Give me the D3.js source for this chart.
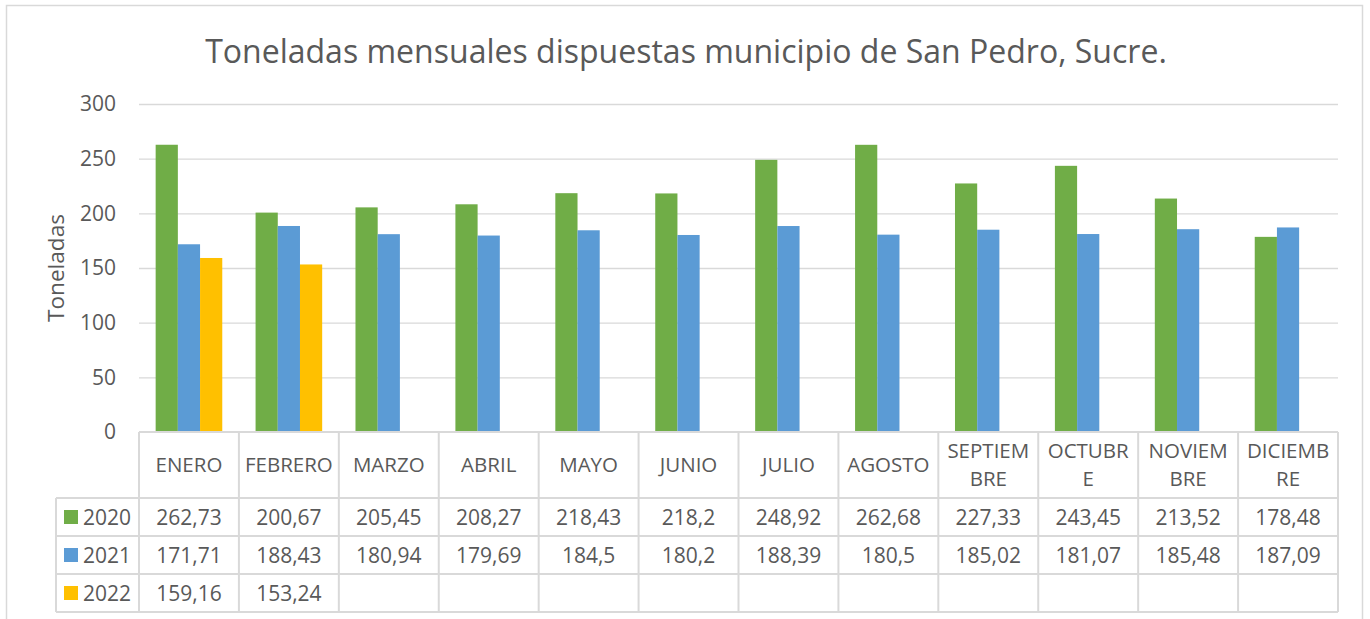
<!DOCTYPE html>
<html>
<head>
<meta charset="utf-8">
<script src="https://cdn.jsdelivr.net/npm/d3@7"></script>
<style>
	body { margin: 0; background: #fff; }
	text { font-family: "Open Sans", sans-serif; fill: #595959; }
</style>
</head>
<body>
<svg id="chart" width="1370" height="619"></svg>
<script>
// data
var months = ["ENERO","FEBRERO","MARZO","ABRIL","MAYO","JUNIO","JULIO","AGOSTO","SEPTIEMBRE","OCTUBRE","NOVIEMBRE","DICIEMBRE"];
var monthLines = [["ENERO"],["FEBRERO"],["MARZO"],["ABRIL"],["MAYO"],["JUNIO"],["JULIO"],["AGOSTO"],["SEPTIEM","BRE"],["OCTUBR","E"],["NOVIEM","BRE"],["DICIEMB","RE"]];
var years = ["2020","2021","2022"];
var v2020 = [262.73, 200.67, 205.45, 208.27, 218.43, 218.2, 248.92, 262.68, 227.33, 243.45, 213.52, 178.48];
var v2021 = [171.71, 188.43, 180.94, 179.69, 184.5, 180.2, 188.39, 180.5, 185.02, 181.07, 185.48, 187.09];
var v2022 = [159.16, 153.24, null, null, null, null, null, null, null, null, null, null];
var yTicks = [0, 50, 100, 150, 200, 250, 300];
var colors = ["#70AD47", "#5B9BD5", "#FFC000"];

var values = [v2020, v2021, v2022];

var svg = d3.select("#chart");
var plotLeft = 139, plotRight = 1338, plotTop = 104, plotBottom = 432;
var tableLeft = 56, headerBottom = 498, rowH = 38;
var gridColor = "#d9d9d9";

// outer frame
svg.append("rect")
	.attr("x", 6.5).attr("y", 5.5)
	.attr("width", 1356).attr("height", 640)
	.attr("fill", "#fff").attr("stroke", gridColor).attr("stroke-width", 1.5);

var x = d3.scaleBand().domain(months).range([plotLeft, plotRight]);
var xs = d3.scaleBand().domain(years).range([0, x.bandwidth()]).paddingOuter(0.75).paddingInner(0);
var y = d3.scaleLinear().domain([0, 300]).range([plotBottom, plotTop]);

// fit a text to a given width
function fitWidth(sel, base, target) {
	sel.style("font-size", base + "px");
	var w = sel.node().getComputedTextLength();
	sel.style("font-size", (base * target / w) + "px");
}

// title
var title = svg.append("text")
	.attr("x", (205 + 1167) / 2).attr("y", 63)
	.attr("text-anchor", "middle")
	.text("Toneladas mensuales dispuestas municipio de San Pedro, Sucre.");
fitWidth(title, 30, 962);

// gridlines
svg.append("g")
	.attr("transform", "translate(" + plotLeft + ",0)")
	.call(d3.axisRight(y).tickValues(yTicks.slice(1)).tickSize(plotRight - plotLeft).tickFormat(""))
	.call(function(g) {
		g.select(".domain").remove();
		g.selectAll("line").attr("stroke", gridColor).attr("stroke-width", 1.3);
	});

// y tick labels
svg.append("g")
	.attr("transform", "translate(" + plotLeft + ",0)")
	.call(d3.axisLeft(y).tickValues(yTicks).tickSize(0).tickPadding(23))
	.call(function(g) {
		g.select(".domain").remove();
		g.selectAll("text").style("font-size", "21px").attr("fill", "#595959")
			.style("font-family", "'Open Sans', sans-serif");
	});

var ytitle = svg.append("text")
	.attr("transform", "translate(64,268) rotate(-90)")
	.attr("text-anchor", "middle")
	.text("Toneladas");
fitWidth(ytitle, 20, 108);

// bars
years.forEach(function(yr, i) {
	svg.append("g").selectAll("rect")
		.data(months.map(function(m, j) { return {m: m, v: values[i][j]}; }).filter(function(d) { return d.v != null; }))
		.enter().append("rect")
		.attr("x", function(d) { return x(d.m) + xs(yr); })
		.attr("width", xs.bandwidth())
		.attr("y", function(d) { return y(d.v); })
		.attr("height", function(d) { return plotBottom - y(d.v); })
		.attr("fill", colors[i]);
});

// data table
var tg = svg.append("g");
var rowTops = years.map(function(d, i) { return headerBottom + i * rowH; });
var tableBottom = headerBottom + years.length * rowH;

function hline(x1, x2, yy) {
	tg.append("line").attr("x1", x1).attr("x2", x2).attr("y1", yy).attr("y2", yy)
		.attr("stroke", gridColor).attr("stroke-width", 2);
}
function vline(xx, y1, y2) {
	tg.append("line").attr("x1", xx).attr("x2", xx).attr("y1", y1).attr("y2", y2)
		.attr("stroke", gridColor).attr("stroke-width", 2);
}

hline(plotLeft, plotRight, plotBottom);
hline(tableLeft, plotRight, headerBottom);
years.forEach(function(d, i) { hline(tableLeft, plotRight, rowTops[i] + rowH); });
months.forEach(function(m) { vline(x(m), plotBottom, tableBottom); });
vline(plotRight, plotBottom, tableBottom);
vline(tableLeft, headerBottom, tableBottom);

// header labels
months.forEach(function(m, j) {
	var lines = monthLines[j];
	var cy = (plotBottom + headerBottom) / 2;
	var t = tg.append("text")
		.attr("x", x(m) + x.bandwidth() / 2)
		.attr("text-anchor", "middle")
		.style("font-size", "20.5px");
	lines.forEach(function(l, k) {
		t.append("tspan")
			.attr("x", x(m) + x.bandwidth() / 2)
			.attr("y", cy + (k - (lines.length - 1) / 2) * 28)
			.attr("dy", "0.36em")
			.text(l);
	});
});

// rows
years.forEach(function(yr, i) {
	var cy = rowTops[i] + rowH / 2;
	tg.append("rect")
		.attr("x", 64).attr("y", cy - 7)
		.attr("width", 14).attr("height", 14)
		.attr("fill", colors[i]);
	tg.append("text")
		.attr("x", 83).attr("y", cy).attr("dy", "0.36em")
		.style("font-size", "21px")
		.text(yr);
	months.forEach(function(m, j) {
		var v = values[i][j];
		if (v == null) return;
		tg.append("text")
			.attr("x", x(m) + x.bandwidth() / 2)
			.attr("y", cy).attr("dy", "0.36em")
			.attr("text-anchor", "middle")
			.style("font-size", "21px")
			.text(String(v).replace(".", ","));
	});
});
</script>
</body>
</html>
